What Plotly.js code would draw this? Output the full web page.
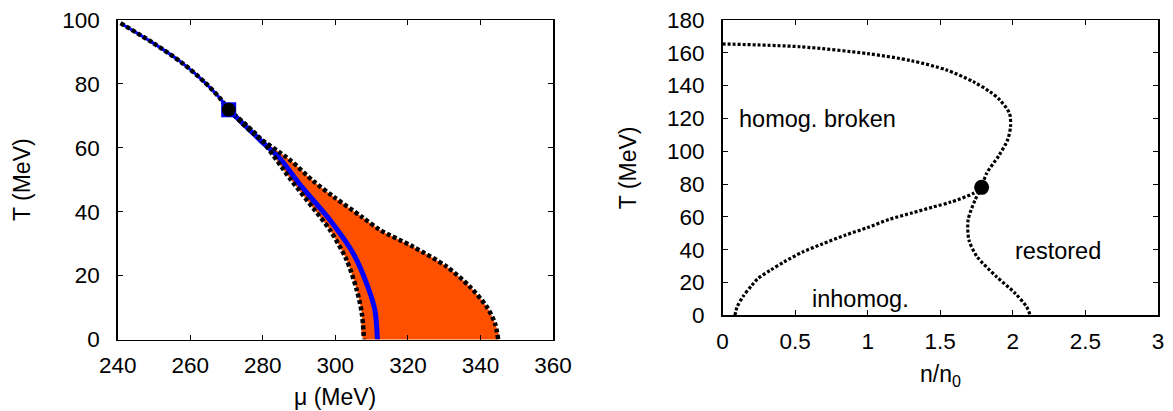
<!DOCTYPE html>
<html><head><meta charset="utf-8">
<script src="https://cdn.plot.ly/plotly-3.0.1.min.js"></script>
<style>html,body{margin:0;padding:0;background:#fff;}#chart{width:1173px;height:411px;}</style>
</head><body><div id="chart"></div>
<script>
// ---------- Left panel: T vs mu ----------
const muCross = [240.8, 249.5, 257.5, 264.0, 268.2, 270.6];
const tCross  = [99.0, 93.0, 86.8, 80.5, 75.5, 71.9];
const muFirst = [270.6, 279.2, 284.7, 290.3, 298.5, 304.9, 308.6, 310.9, 311.6];
const tFirst  = [71.9, 62.5, 56.7, 48.4, 37.4, 27.0, 17.6, 9.2, 0];
const muLow   = [270.6, 279.2, 287.8, 293.9, 298.5, 303.1, 305.9, 307.3, 307.9];
const tLow    = [71.9, 63.0, 49.9, 41.1, 34.3, 24.9, 15.5, 8.2, 0];
const muUp    = [270.6, 277.4, 287.5, 293.9, 299.5, 307.3, 312.3, 321.5, 330.7, 337.1, 341.7, 344.0, 344.9];
const tUp     = [71.9, 64.5, 56.2, 49.6, 44.7, 38.4, 34.3, 29.0, 22.8, 16.5, 10.3, 5.1, 0];
const cepMu = [270.6], cepT = [71.9];
const muTicks = [240, 260, 280, 300, 320, 340, 360];
const tTicksL = [0, 20, 40, 60, 80, 100];

// ---------- Right panel: T vs n/n0 ----------
const nUp   = [0.0, 0.534, 1.0, 1.3, 1.544, 1.727, 1.842, 1.911, 1.977, 1.984, 1.964, 1.905, 1.82, 1.785];
const tUp2  = [165.4, 163.7, 159.5, 155.2, 149.5, 142.4, 136.3, 131.2, 123.1, 115.0, 106.9, 97.5, 86.6, 78.0];
const nInh  = [0.086, 0.1, 0.141, 0.2, 0.245, 0.33, 0.423, 0.55, 0.688, 0.85, 1.0, 1.15, 1.31, 1.45, 1.573, 1.728, 1.785];
const tInh  = [0, 5.0, 11.4, 18.0, 22.5, 27.5, 32.5, 38.5, 43.5, 49.0, 53.5, 58.5, 62.5, 66.0, 69.0, 74.3, 78.0];
const nRes  = [1.785, 1.74, 1.692, 1.698, 1.753, 1.887, 2.016, 2.094, 2.12];
const tRes  = [78.0, 70.3, 58.1, 45.9, 35.8, 23.6, 13.4, 5.3, 0];
const cpN = [1.785], cpT = [78.0];
const nTicks = [0, 0.5, 1, 1.5, 2, 2.5, 3];
const nTickText = ['0', '0.5', '1', '1.5', '2', '2.5', '3'];
const tTicksR = [0, 20, 40, 60, 80, 100, 120, 140, 160, 180];

const FONT = 'Liberation Sans, Arial, Helvetica, sans-serif';
const dotL = {color: '#000', width: 4.5, dash: '4px,2.5px', shape: 'spline', smoothing: 0.8};
const dotR = {color: '#000', width: 3.2, dash: '3px,2px', shape: 'spline', smoothing: 0.8};

const traces = [
  {x: muLow.concat(muUp.slice().reverse()), y: tLow.concat(tUp.slice().reverse()),
   xaxis: 'x', yaxis: 'y', mode: 'lines', fill: 'toself', fillcolor: '#ff5000',
   line: {width: 0, color: '#ff5000', shape: 'spline', smoothing: 0.8}, hoverinfo: 'skip'},
  {x: muCross, y: tCross, xaxis: 'x', yaxis: 'y', mode: 'lines',
   line: {color: '#0000ff', width: 3, shape: 'spline', smoothing: 0.8}},
  {x: muFirst, y: tFirst, xaxis: 'x', yaxis: 'y', mode: 'lines',
   line: {color: '#0000ff', width: 5, shape: 'spline', smoothing: 0.8}},
  {x: muCross, y: tCross, xaxis: 'x', yaxis: 'y', mode: 'lines', line: dotL},
  {x: muLow, y: tLow, xaxis: 'x', yaxis: 'y', mode: 'lines', line: dotL},
  {x: muUp, y: tUp, xaxis: 'x', yaxis: 'y', mode: 'lines', line: dotL},
  {x: cepMu, y: cepT, xaxis: 'x', yaxis: 'y', mode: 'markers', cliponaxis: false,
   marker: {symbol: 'square', size: 15, color: '#0000ff'}},
  {x: cepMu, y: cepT, xaxis: 'x', yaxis: 'y', mode: 'markers', cliponaxis: false,
   marker: {symbol: 'circle', size: 14, color: '#000'}},
  {x: nUp, y: tUp2, xaxis: 'x2', yaxis: 'y2', mode: 'lines', line: dotR},
  {x: nInh, y: tInh, xaxis: 'x2', yaxis: 'y2', mode: 'lines', line: dotR},
  {x: nRes, y: tRes, xaxis: 'x2', yaxis: 'y2', mode: 'lines', line: dotR},
  {x: cpN, y: cpT, xaxis: 'x2', yaxis: 'y2', mode: 'markers', cliponaxis: false,
   marker: {symbol: 'circle', size: 15, color: '#000'}}
];

const ax = {
  showline: true, linecolor: '#000', linewidth: 1.5, mirror: 'ticks',
  ticks: 'inside', ticklen: 5, tickwidth: 1, tickcolor: '#000',
  showgrid: false, zeroline: false, fixedrange: true,
  tickfont: {family: FONT, size: 22.5, color: '#000'}
};
const W = 1173, H = 411;
const px = v => v / W, py = v => 1 - v / H;

const layout = {
  width: W, height: H, margin: {l: 0, r: 0, t: 0, b: 0},
  paper_bgcolor: '#fff', plot_bgcolor: '#fff', showlegend: false,
  font: {family: FONT, size: 22, color: '#000'},
  xaxis: Object.assign({}, ax, {domain: [px(117.7), px(553)], range: [240, 360],
    tickvals: muTicks, anchor: 'y', ticklabelstandoff: 5}),
  yaxis: Object.assign({}, ax, {domain: [py(339.5), py(20)], range: [0, 100],
    tickvals: tTicksL, anchor: 'x', ticklabelstandoff: 12}),
  xaxis2: Object.assign({}, ax, {domain: [px(722.5), px(1158)], range: [0, 3],
    tickvals: nTicks, ticktext: nTickText, anchor: 'y2', ticklabelstandoff: 5}),
  yaxis2: Object.assign({}, ax, {domain: [py(315.3), py(20)], range: [0, 180],
    tickvals: tTicksR, anchor: 'x2', ticklabelstandoff: 12}),
  annotations: [
    {xref: 'paper', yref: 'paper', x: px(22), y: py(180), text: 'T (MeV)', textangle: -90,
     showarrow: false, xanchor: 'center', yanchor: 'middle', font: {size: 23}},
    {xref: 'paper', yref: 'paper', x: px(335.3), y: py(397), text: 'μ (MeV)',
     showarrow: false, xanchor: 'center', yanchor: 'middle', font: {size: 23}},
    {xref: 'paper', yref: 'paper', x: px(627.7), y: py(167.5), text: 'T (MeV)', textangle: -90,
     showarrow: false, xanchor: 'center', yanchor: 'middle', font: {size: 23}},
    {xref: 'paper', yref: 'paper', x: px(940), y: py(375), text: 'n/n<sub>0</sub>',
     showarrow: false, xanchor: 'center', yanchor: 'middle', font: {size: 23}},
    {xref: 'x2', yref: 'y2', x: 0.102, y: 119.8, text: 'homog. broken',
     showarrow: false, xanchor: 'left', yanchor: 'middle', font: {size: 23.5}},
    {xref: 'x2', yref: 'y2', x: 0.603, y: 9.7, text: 'inhomog.',
     showarrow: false, xanchor: 'left', yanchor: 'middle', font: {size: 23.5}},
    {xref: 'x2', yref: 'y2', x: 2.003, y: 39.2, text: 'restored',
     showarrow: false, xanchor: 'left', yanchor: 'middle', font: {size: 23.5}}
  ]
};

Plotly.newPlot('chart', traces, layout, {displayModeBar: false, staticPlot: true});
</script>
</body></html>
